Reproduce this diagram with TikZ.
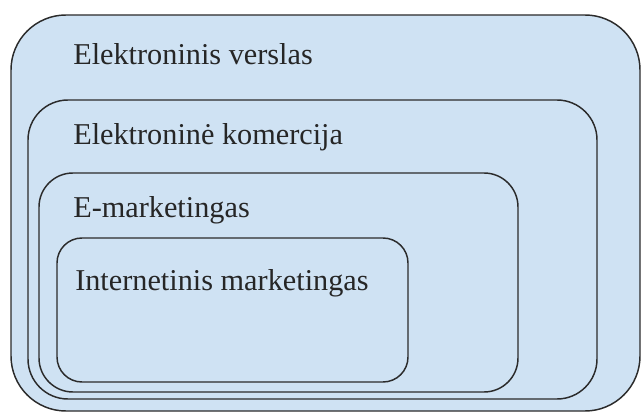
\documentclass[tikz,border=0pt]{standalone}
\usepackage{fontspec}
\setmainfont{Liberation Serif}
\definecolor{boxfill}{HTML}{CFE2F3}
\definecolor{boxline}{HTML}{2B2B2B}
\begin{document}
\begin{tikzpicture}[x=0.75pt,y=-0.75pt,
  layer/.style={draw=boxline,line width=1.1pt},
  lbl/.style={anchor=base west,inner sep=0pt,font=\fontsize{22.7}{27}\selectfont,text=black!85}]
\useasboundingbox (0,0) rectangle (642,413);
\path[layer,fill=boxfill,rounded corners=55*0.75pt] (11,15) rectangle (640,411);
\path[layer,rounded corners=40*0.75pt] (28,100) rectangle (597,399);
\path[layer,rounded corners=34*0.75pt] (39,173) rectangle (518,392);
\path[layer,rounded corners=25*0.75pt] (57,238) rectangle (408,382);
\node[lbl] (t1) at (73,65) {Elektroninis verslas};
\node[lbl] (t2) at (73,145) {Elektroninė komercija};
\node[lbl] (t3) at (73,218) {E-marketingas};
\node[lbl] (t4) at (75,290) {Internetinis marketingas};
\end{tikzpicture}
\end{document}
